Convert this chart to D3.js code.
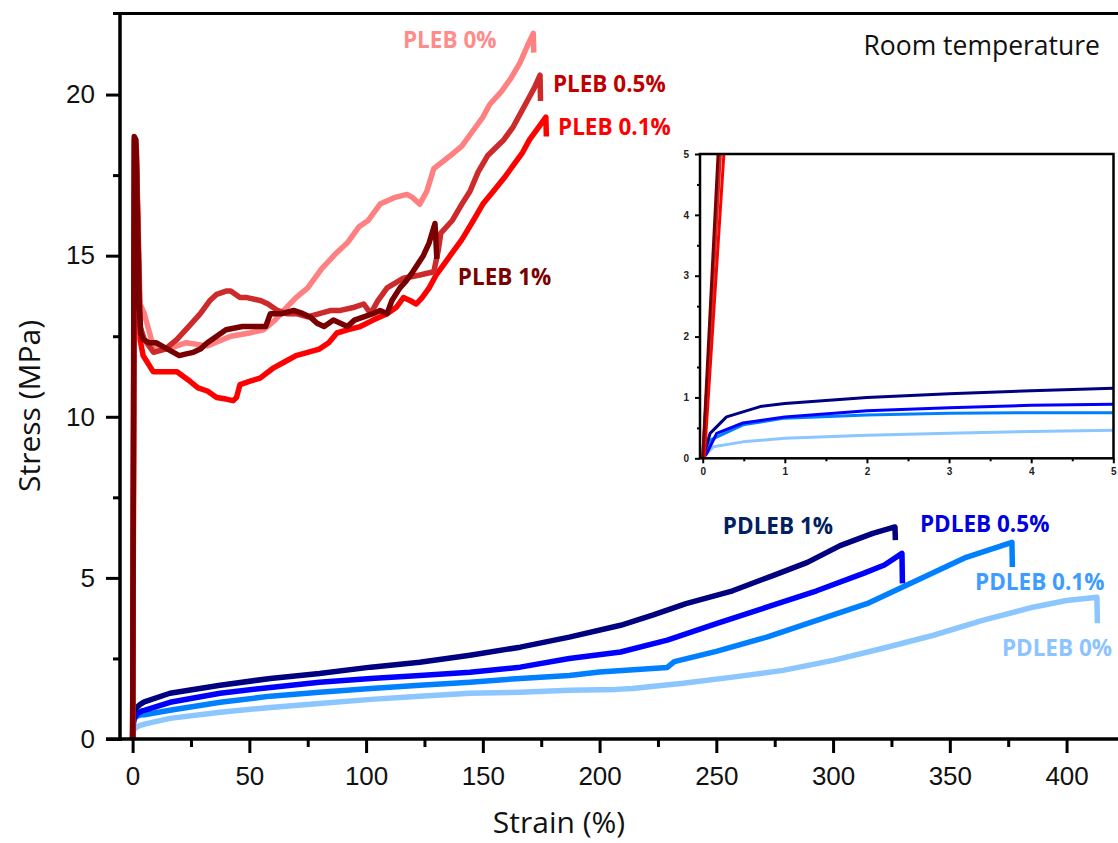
<!DOCTYPE html>
<html><head><meta charset="utf-8">
<script src="https://cdn.jsdelivr.net/npm/d3@7"></script>
<style>
html,body{margin:0;padding:0;background:#fff;}
svg{display:block;}
</style></head>
<body>
<svg id="chart" width="1118" height="843"></svg>
<script>
// ---------- DATA (strain %, stress MPa) ----------
const seriesNames = ["PDLEB 0%","PDLEB 0.1%","PDLEB 0.5%","PDLEB 1%","PLEB 0%","PLEB 0.1%","PLEB 0.5%","PLEB 1%"];

const pdleb0 = [[0,0],[0.05,0.08],[0.13,0.19],[0.49,0.27],[1,0.33],[2,0.38],[3,0.41],[4,0.44],[5,0.46],[16,0.64],[37.5,0.83],[59,0.98],[80,1.1],[102,1.23],[123,1.33],[144.5,1.42],[166,1.45],[187,1.51],[207,1.54],[214,1.57],[235.8,1.73],[257,1.92],[278.6,2.13],[300,2.44],[321,2.81],[343,3.22],[364,3.68],[385.6,4.09],[400,4.3],[413,4.4],[413.2,3.59]];
const pdleb01 = [[0,0],[0.09,0.3],[0.49,0.55],[1,0.66],[2,0.71],[3,0.74],[4,0.75],[5,0.75],[16,0.89],[37.5,1.14],[59,1.33],[80,1.45],[102,1.57],[123,1.67],[144.5,1.76],[166,1.88],[187,1.97],[200,2.08],[229,2.22],[232,2.4],[250,2.72],[271.6,3.16],[293,3.68],[314.5,4.2],[336,4.93],[357,5.64],[376.6,6.1],[376.8,5.34]];
const pdleb05 = [[0,0],[0.05,0.08],[0.17,0.41],[0.49,0.58],[1,0.68],[2,0.78],[3,0.83],[4,0.87],[5,0.89],[16,1.14],[37.5,1.42],[59,1.6],[80,1.76],[102,1.88],[123,1.97],[144.5,2.07],[166,2.23],[187,2.5],[209,2.7],[229,3.07],[250,3.58],[271.6,4.09],[293,4.6],[313,5.14],[322,5.4],[329.5,5.76],[329.7,4.83]];
const pdleb1 = [[0,0],[0.09,0.41],[0.29,0.68],[0.7,0.85],[1,0.9],[2,1.0],[3,1.06],[4,1.11],[5,1.15],[16,1.42],[37.5,1.67],[59,1.88],[80,2.03],[102,2.23],[123,2.38],[144.5,2.6],[166,2.85],[187,3.16],[209,3.53],[223,3.85],[237,4.2],[257,4.6],[274.5,5.08],[289,5.48],[303,6.0],[317,6.38],[326.5,6.58],[326.7,6.17]];

const pleb0 = [[0,0],[0.8,18.6],[1.5,18.5],[3.2,13.5],[5,13.2],[8.8,12.2],[15,12.1],[23,12.3],[32,12.2],[42,12.5],[50,12.6],[56,12.7],[61,13.0],[66,13.4],[70,13.7],[75,14.0],[81,14.6],[87.5,15.1],[92,15.4],[97,15.9],[101,16.1],[106,16.6],[112,16.8],[117.5,16.9],[120,16.8],[123,16.6],[126,17.0],[129,17.7],[136,18.1],[141,18.4],[146,18.9],[150,19.3],[153,19.7],[158,20.1],[162,20.5],[166,21.0],[169,21.5],[171.6,21.9],[171.8,21.3]];
const pleb01 = [[0.02,0],[0.9,18.5],[1.6,18.3],[3.2,12.4],[4.5,11.9],[8.8,11.4],[14,11.4],[19,11.4],[24.6,11.1],[28,10.9],[32,10.8],[36,10.6],[40,10.55],[43,10.5],[44.5,10.6],[46,11.0],[50,11.1],[54.6,11.2],[60,11.5],[65,11.7],[70,11.9],[75,12.0],[80,12.1],[84,12.3],[87.5,12.6],[92,12.7],[97.5,12.8],[103,13.0],[109,13.2],[113,13.4],[116,13.7],[119,13.6],[121.5,13.5],[124,13.7],[127,14.0],[130,14.4],[132,14.6],[137,15.1],[141,15.5],[146,16.1],[150,16.6],[154.5,17.0],[159,17.4],[163,17.8],[167,18.2],[170,18.6],[174,19.0],[177,19.3],[177.2,18.7]];
const pleb05 = [[0,0],[0.8,18.6],[1.5,18.4],[3.2,12.8],[5,12.4],[9,12.0],[14,12.1],[19,12.4],[24,12.8],[29,13.2],[33,13.6],[36,13.8],[40,13.9],[42,13.9],[46,13.7],[49,13.7],[55,13.6],[58,13.5],[62,13.3],[66,13.2],[70,13.2],[75,13.1],[80,13.2],[85,13.3],[89,13.3],[95,13.4],[99,13.5],[102,13.2],[105,13.6],[109,14.0],[116,14.3],[123,14.4],[129,14.5],[131,15.2],[132,15.7],[137,16.1],[141,16.6],[144.5,17.0],[148,17.6],[152,18.1],[159,18.6],[163,19.0],[166,19.4],[169,19.8],[172,20.2],[174.5,20.6],[174.7,19.8]];
const pleb1 = [[0,0],[0.7,18.7],[1.4,18.6],[2.8,13.5],[3.5,12.6],[4.5,12.4],[7,12.3],[10,12.3],[15,12.1],[20,11.9],[23,11.95],[26,12.0],[29,12.1],[32,12.3],[36,12.5],[40,12.7],[47,12.8],[53,12.8],[57,12.8],[59,13.2],[64,13.2],[69,13.3],[73,13.2],[76,13.1],[79,12.9],[82,12.8],[86,13.0],[89,12.9],[92,12.8],[95,13.0],[99,13.1],[103,13.2],[106,13.3],[109,13.2],[111,13.6],[114.5,14.0],[117,14.2],[120,14.5],[124.5,15.0],[127,15.4],[129.5,16.0],[130.3,14.9]];

const seriesData = [pdleb0, pdleb01, pdleb05, pdleb1, pleb0, pleb01, pleb05, pleb1];
const lineColors = ["#8cc6ff","#0080ff","#0000ff","#000080","#ff8080","#ff0000","#cd2b2b","#780000"];
const labelColors = ["#8cc4ff","#3f9cff","#0000e0","#002060","#ff8b8b","#ff0000","#c00000","#7b0000"];
// label anchor points (strain %, stress MPa) for annotation text, same order as seriesNames
const labelPos = [[372.3,2.58],[360.8,4.62],[337.2,6.42],[252.8,6.36],[115.8,21.45],[182.2,18.75],[180,20.08],[139.3,14.09]];

const xTicks = [0,50,100,150,200,250,300,350,400];
const xMinor = [25,75,125,175,225,275,325,375];
const yTicks = [0,5,10,15,20];
const yMinor = [2.5,7.5,12.5,17.5];
const insetTicks = [0,1,2,3,4,5];
const insetMinor = [0.5,1.5,2.5,3.5,4.5];

// ---------- DRAW ----------
const svg = d3.select("#chart");
const x = d3.scaleLinear().domain([-5.4, 421.6]).range([120, 1117]);
const y = d3.scaleLinear().domain([0, 22.5]).range([739, 14]);

const line = d3.line().x(d => x(d[0])).y(d => y(d[1]));

const curves = svg.append("g");
seriesData.forEach((s, i) => {
  curves.append("path").attr("d", line(s))
    .attr("fill","none").attr("stroke", lineColors[i])
    .attr("stroke-width", 5.5).attr("stroke-linejoin","round").attr("stroke-linecap","butt");
});

// axes
const axisFont = "'Liberation Sans', Arial, sans-serif";
const gx = svg.append("g").attr("transform","translate(0,739)")
  .call(d3.axisBottom(x).tickValues(xTicks).tickSize(14).tickPadding(14).tickFormat(d3.format("d")));
gx.select(".domain").remove();
gx.selectAll(".tick line").attr("stroke","#000").attr("stroke-width",3);
gx.selectAll("text").attr("font-family",axisFont).attr("font-size",26).attr("fill","#111");
const gxm = svg.append("g").attr("transform","translate(0,739)")
  .call(d3.axisBottom(x).tickValues(xMinor).tickSize(8).tickFormat(""));
gxm.select(".domain").remove();
gxm.selectAll(".tick line").attr("stroke","#000").attr("stroke-width",3);

const gy = svg.append("g").attr("transform","translate(120,0)")
  .call(d3.axisLeft(y).tickValues(yTicks).tickSize(14).tickPadding(11));
gy.select(".domain").remove();
gy.selectAll(".tick line").attr("stroke","#000").attr("stroke-width",3);
gy.selectAll("text").attr("font-family",axisFont).attr("font-size",26).attr("fill","#111");
const gym = svg.append("g").attr("transform","translate(120,0)")
  .call(d3.axisLeft(y).tickValues(yMinor).tickSize(7).tickFormat(""));
gym.select(".domain").remove();
gym.selectAll(".tick line").attr("stroke","#000").attr("stroke-width",3);

// frame lines
svg.append("line").attr("x1",106).attr("x2",1118).attr("y1",739).attr("y2",739).attr("stroke","#000").attr("stroke-width",3.5);
svg.append("line").attr("x1",120).attr("x2",120).attr("y1",12).attr("y2",741).attr("stroke","#000").attr("stroke-width",3.5);
svg.append("line").attr("x1",113).attr("x2",1118).attr("y1",13.5).attr("y2",13.5).attr("stroke","#000").attr("stroke-width",3);

// axis titles
const titleFont = "'Open Sans', 'Noto Sans', sans-serif";
svg.append("text").attr("x",559).attr("y",833).attr("text-anchor","middle")
  .attr("font-family",titleFont).attr("font-size",30).attr("fill","#111").text("Strain (%)");
svg.append("text").attr("transform","translate(40,406) rotate(-90)").attr("text-anchor","middle")
  .attr("font-family",titleFont).attr("font-size",30).attr("fill","#111").text("Stress (MPa)");
svg.append("text").attr("x",1100).attr("y",55).attr("text-anchor","end")
  .attr("font-family",titleFont).attr("font-size",26.5).attr("fill","#111").text("Room temperature");

// series labels
seriesNames.forEach((n, i) => {
  svg.append("text").attr("x", x(labelPos[i][0])).attr("y", y(labelPos[i][1]))
    .attr("font-family",titleFont).attr("font-weight",700).attr("font-size",22.5)
    .attr("fill", labelColors[i]).text(n);
});

// ---------- INSET ----------
const ix = d3.scaleLinear().domain([-0.033, 5]).range([700, 1113.3]);
const iy = d3.scaleLinear().domain([0, 5]).range([458.3, 154]);
svg.append("defs").append("clipPath").attr("id","insetClip")
  .append("rect").attr("x",700).attr("y",154).attr("width",413.5).attr("height",304.3);
svg.append("rect").attr("x",700).attr("y",154).attr("width",413.5).attr("height",304.3).attr("fill","#fff");
const iline = d3.line().x(d => ix(d[0])).y(d => iy(d[1]));
const ig = svg.append("g").attr("clip-path","url(#insetClip)");
seriesData.forEach((s, i) => {
  ig.append("path").attr("d", iline(s)).attr("fill","none").attr("stroke", lineColors[i])
    .attr("stroke-width", 3).attr("stroke-linejoin","round");
});
svg.append("rect").attr("x",700).attr("y",154).attr("width",413.5).attr("height",304.3)
  .attr("fill","none").attr("stroke","#000").attr("stroke-width",2.5);

const ixa = svg.append("g").attr("transform","translate(0,458.3)")
  .call(d3.axisBottom(ix).tickValues(insetTicks).tickSize(5).tickPadding(5).tickFormat(d3.format("d")));
ixa.select(".domain").remove();
ixa.selectAll(".tick line").attr("stroke","#000").attr("stroke-width",2);
ixa.selectAll("text").attr("font-family",axisFont).attr("font-weight",700).attr("font-size",10).attr("fill","#222");
const ixm = svg.append("g").attr("transform","translate(0,458.3)")
  .call(d3.axisBottom(ix).tickValues(insetMinor).tickSize(3).tickFormat(""));
ixm.select(".domain").remove();
ixm.selectAll(".tick line").attr("stroke","#000").attr("stroke-width",2);

const iya = svg.append("g").attr("transform","translate(700,0)")
  .call(d3.axisLeft(iy).tickValues(insetTicks).tickSize(5).tickPadding(6).tickFormat(d3.format("d")));
iya.select(".domain").remove();
iya.selectAll(".tick line").attr("stroke","#000").attr("stroke-width",2);
iya.selectAll("text").attr("font-family",axisFont).attr("font-weight",700).attr("font-size",10).attr("fill","#222");
const iym = svg.append("g").attr("transform","translate(700,0)")
  .call(d3.axisLeft(iy).tickValues(insetMinor).tickSize(3).tickFormat(""));
iym.select(".domain").remove();
iym.selectAll(".tick line").attr("stroke","#000").attr("stroke-width",2);
</script>
</body></html>
